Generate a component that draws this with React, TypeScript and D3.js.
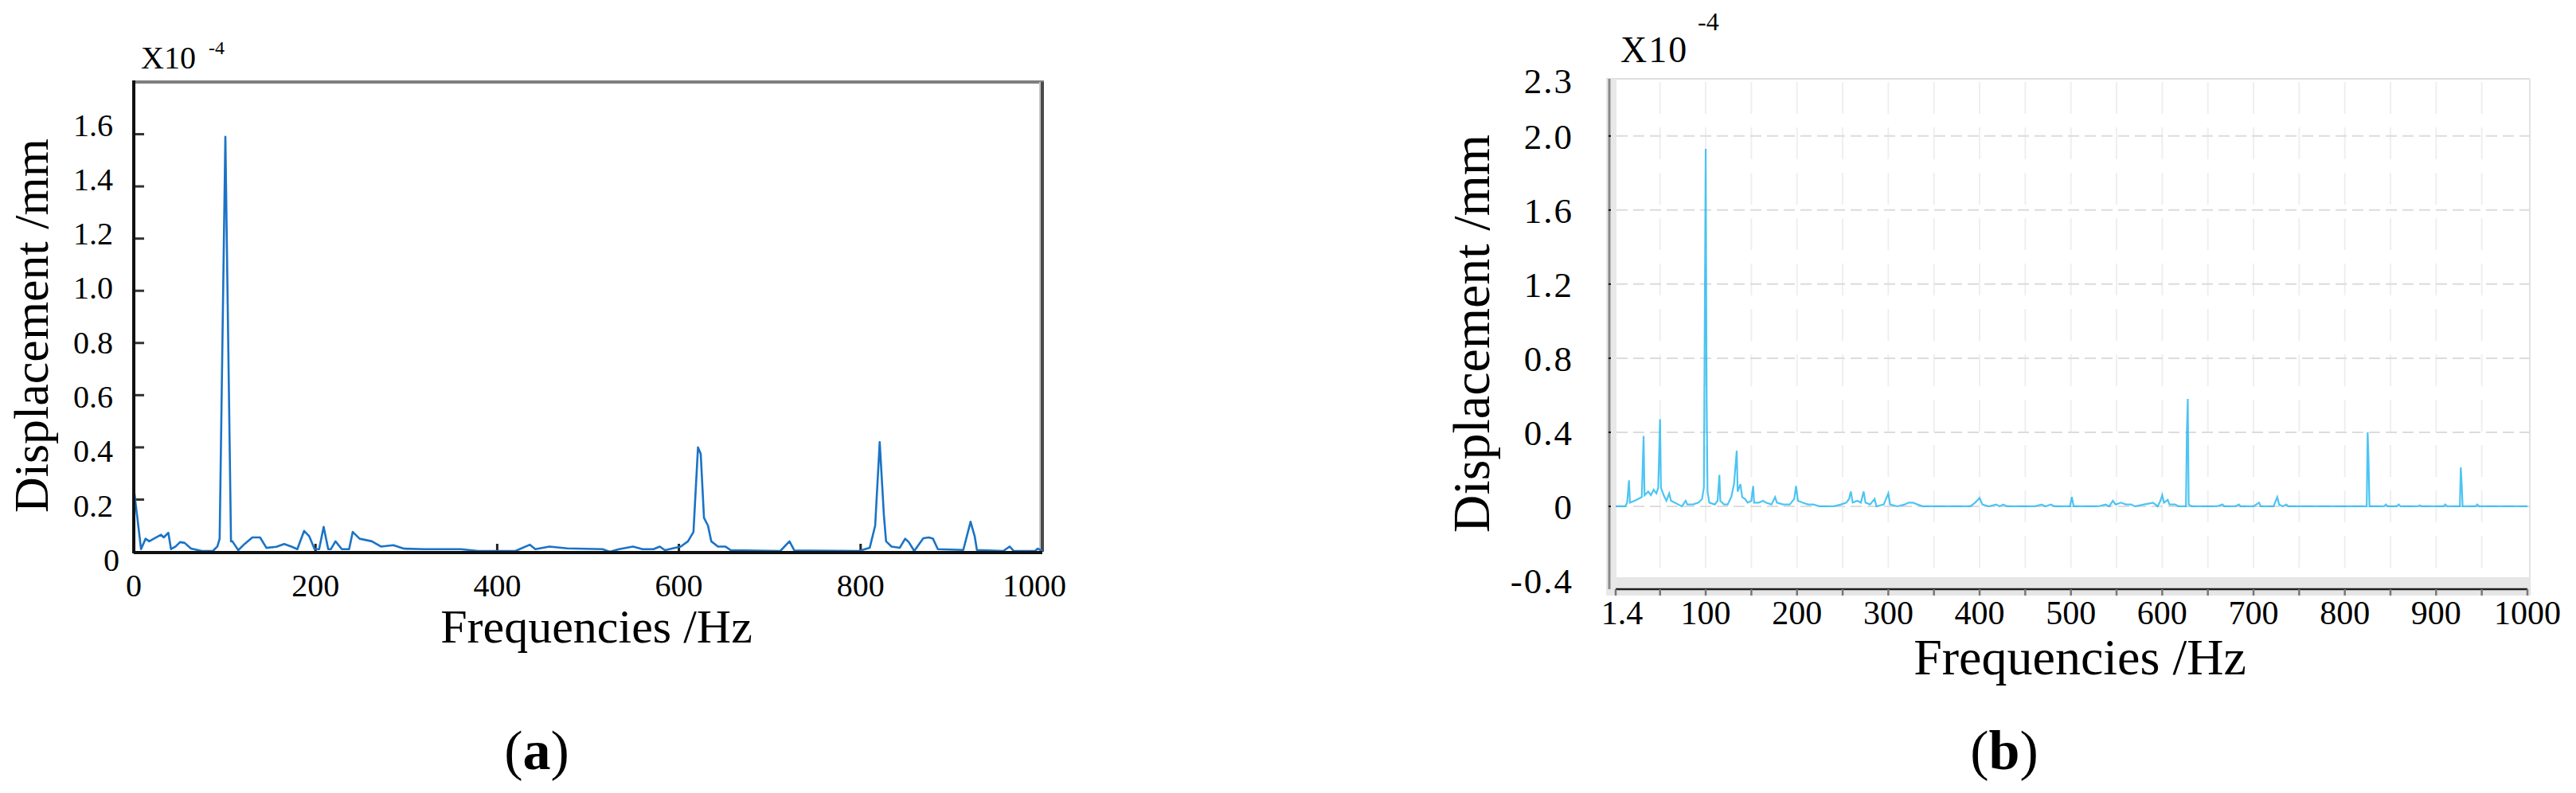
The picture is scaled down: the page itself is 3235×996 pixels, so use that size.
import React, { useRef, useEffect } from "react";
import * as d3 from "d3";

// panel (a) spectrum, displacement in 1e-4 mm
const freqA = [0, 8, 13, 17, 22, 30, 33, 38, 41, 46, 51, 56, 63, 75, 87, 92, 94.5, 100.8, 107, 108.5, 115, 122, 130.5, 139, 146, 157, 165.6, 174, 180, 187.5, 193, 199, 204, 209, 214, 217, 222, 229, 237, 241, 248.6, 262, 272, 285.7, 297, 320, 360, 379, 420, 436, 442, 457.5, 477, 516, 524, 534, 549.5, 560, 572, 579, 584.5, 602, 610, 616, 621, 624, 627.6, 632, 635.6, 643, 651, 657, 711.6, 721.7, 727, 798, 810, 816, 821, 825.6, 828, 834, 843, 849, 853, 859, 869, 875, 879.6, 885, 913, 921, 925.5, 928, 957, 964, 968.6, 992, 995, 1000];
const dispA = [0.245, 0.01, 0.05, 0.04, 0.05, 0.065, 0.055, 0.073, 0.01, 0.02, 0.037, 0.034, 0.012, 0.003, 0.003, 0.02, 0.05, 1.59, 0.04, 0.04, 0.006, 0.03, 0.055, 0.055, 0.015, 0.019, 0.03, 0.019, 0.01, 0.08, 0.06, 0.01, 0.01, 0.095, 0.01, 0.01, 0.04, 0.01, 0.01, 0.076, 0.05, 0.04, 0.02, 0.025, 0.012, 0.01, 0.01, 0.003, 0.003, 0.027, 0.01, 0.02, 0.013, 0.01, 0, 0.01, 0.02, 0.01, 0.01, 0.02, 0.006, 0.02, 0.04, 0.076, 0.4, 0.375, 0.13, 0.1, 0.04, 0.02, 0.02, 0.006, 0.003, 0.04, 0.005, 0.003, 0.015, 0.1, 0.42, 0.14, 0.04, 0.02, 0.015, 0.05, 0.037, 0.003, 0.052, 0.055, 0.05, 0.01, 0.007, 0.115, 0.06, 0.007, 0.003, 0.02, 0.003, 0.003, 0.012, 0.003];
const yTicksA = [0, 0.2, 0.4, 0.6, 0.8, 1.0, 1.2, 1.4, 1.6];
const xTicksA = [0, 200, 400, 600, 800, 1000];

// panel (b) spectrum
const freqB = [1.4, 12, 14, 16, 17, 22, 26, 30, 32, 33, 37, 40, 43, 46, 48, 50, 51, 54, 57, 60, 62, 66, 70, 74, 78, 80, 86, 92, 96, 98, 100, 101, 102, 104, 110, 113, 115, 116, 120, 124, 128, 131, 134, 135, 138, 140, 143, 146, 150, 152, 153, 158, 163, 166, 172, 176, 178, 185, 192, 197, 199, 201, 206, 212, 218, 225, 240, 248, 254, 257, 259, 261, 266, 270, 273, 275, 280, 285, 287, 295, 300, 302, 310, 318, 322, 327, 332, 338, 390, 395, 400, 403, 410, 418, 422, 426, 430, 460, 468, 472, 478, 482, 499, 501, 503, 530, 538, 542, 546, 549, 555, 560, 566, 570, 580, 590, 595, 598, 600, 602, 606, 608, 614, 618, 626, 627, 628, 629, 632, 660, 666, 668, 680, 684, 686, 700, 706, 708, 722, 726, 728, 732, 736, 738, 824, 825, 826, 827, 843, 845, 847, 857, 859, 861, 880, 882, 884, 908, 910, 912, 926, 927, 928, 929, 943, 945, 947, 1000];
const dispB = [0, 0, 0.02, 0.14, 0.02, 0.03, 0.04, 0.05, 0.38, 0.06, 0.08, 0.06, 0.09, 0.07, 0.1, 0.47, 0.1, 0.06, 0.03, 0.07, 0.03, 0.02, 0.01, 0, 0.03, 0.01, 0.01, 0.02, 0.04, 0.1, 1.93, 0.6, 0.08, 0.02, 0.01, 0.03, 0.17, 0.03, 0.01, 0.01, 0.05, 0.12, 0.3, 0.08, 0.12, 0.05, 0.04, 0.02, 0.03, 0.11, 0.02, 0.02, 0.03, 0.02, 0.01, 0.05, 0.02, 0.01, 0.01, 0.04, 0.11, 0.03, 0.02, 0.01, 0.01, 0, 0, 0.01, 0.02, 0.04, 0.08, 0.02, 0.03, 0.02, 0.08, 0.02, 0.01, 0.04, 0, 0.01, 0.07, 0.01, 0, 0.01, 0.02, 0.02, 0.01, 0, 0, 0.02, 0.045, 0.01, 0, 0.01, 0, 0.01, 0, 0, 0.01, 0, 0.01, 0, 0, 0.05, 0, 0, 0.01, 0, 0.03, 0.01, 0.02, 0.01, 0.01, 0, 0.01, 0.02, 0, 0.03, 0.06, 0.02, 0.035, 0.01, 0.01, 0, 0, 0.4, 0.58, 0.01, 0, 0, 0.01, 0, 0, 0.01, 0, 0, 0.02, 0, 0, 0.05, 0.01, 0, 0.01, 0, 0, 0.4, 0.25, 0, 0, 0.01, 0, 0, 0.01, 0, 0, 0.005, 0, 0, 0.01, 0, 0, 0.21, 0.12, 0, 0, 0.01, 0, 0];
const yTicksB = [-0.4, 0, 0.4, 0.8, 1.2, 1.6, 2.0, 2.3];
const yGridB = [0, 0.4, 0.8, 1.2, 1.6, 2.0];
const xTicksB = [1.4, 100, 200, 300, 400, 500, 600, 700, 800, 900, 1000];
const xMinorB = [50, 150, 250, 350, 450, 550, 650, 750, 850, 950];

const FONT = "'Liberation Serif', 'Times New Roman', serif";

function App() {
  const ref = useRef(null);

  useEffect(() => {
    const svg = d3.select(ref.current);
    svg.selectAll("*").remove();

    // ---------- panel (a) ----------
    const xa = d3.scaleLinear().domain([0, 1000]).range([168, 1309]);
    const ya = d3.scaleLinear().domain([0, 1.8]).range([693, 103]);
    const labA = d3.scaleLinear().domain([0, 1.6]).range([ya(0) + 10, ya(1.6) - 12]);
    const ga = svg.append("g");

    ga.append("line").attr("x1", xa(0) - 2).attr("x2", xa(1000) + 2)
      .attr("y1", ya(1.8)).attr("y2", ya(1.8)).attr("stroke", "#7f7f7f").attr("stroke-width", 4);
    ga.append("line").attr("x1", xa(1000)).attr("x2", xa(1000))
      .attr("y1", ya(1.8)).attr("y2", ya(0)).attr("stroke", "#4a4a4a").attr("stroke-width", 4);
    ga.append("line").attr("x1", xa(1000) - 3).attr("x2", xa(1000) - 3)
      .attr("y1", ya(1.8)).attr("y2", ya(0)).attr("stroke", "#c4c4c4").attr("stroke-width", 2);

    ga.selectAll(".yt").data(yTicksA.slice(1)).join("line")
      .attr("x1", xa(0)).attr("x2", xa(0) + 13)
      .attr("y1", (d) => ya(d)).attr("y2", (d) => ya(d))
      .attr("stroke", "#333").attr("stroke-width", 3);
    ga.selectAll(".xt").data(xTicksA.slice(1, -1)).join("line")
      .attr("x1", (d) => xa(d)).attr("x2", (d) => xa(d))
      .attr("y1", ya(0)).attr("y2", ya(0) - 10)
      .attr("stroke", "#222").attr("stroke-width", 3);

    const lineA = d3.line().x((d) => xa(d[0])).y((d) => ya(d[1]));
    ga.append("path").datum(freqA.map((f, i) => [f, dispA[i]]))
      .attr("d", lineA).attr("fill", "none")
      .attr("stroke", "#1a73c6").attr("stroke-width", 2.6)
      .attr("stroke-linejoin", "round");

    ga.append("line").attr("x1", xa(0)).attr("x2", xa(0))
      .attr("y1", ya(1.8) - 2).attr("y2", ya(0) + 2).attr("stroke", "#111").attr("stroke-width", 4);
    ga.append("line").attr("x1", xa(0)).attr("x2", xa(1000))
      .attr("y1", ya(0) + 1).attr("y2", ya(0) + 1).attr("stroke", "#111").attr("stroke-width", 4);

    ga.selectAll(".yl").data(yTicksA).join("text")
      .attr("x", (d) => (d === 0 ? 150 : 142)).attr("y", (d) => labA(d)).attr("dy", "0.35em")
      .attr("text-anchor", "end").attr("font-family", FONT).attr("font-size", 40)
      .text((d) => (d === 0 ? "0" : d.toFixed(1)));
    ga.selectAll(".xl").data(xTicksA).join("text")
      .attr("x", (d) => xa(d) + (d === 1000 ? -10 : 0)).attr("y", 749)
      .attr("text-anchor", "middle").attr("font-family", FONT).attr("font-size", 40)
      .text((d) => String(d));

    ga.append("text").attr("x", 177).attr("y", 86)
      .attr("font-family", FONT).attr("font-size", 40).text("X10");
    ga.append("text").attr("x", 262).attr("y", 68).attr("font-family", FONT)
      .attr("font-size", 24).text("-4");

    ga.append("text").attr("transform", "translate(60,409) rotate(-90)")
      .attr("text-anchor", "middle").attr("font-family", FONT).attr("font-size", 62)
      .text("Displacement /mm");
    ga.append("text").attr("x", 749).attr("y", 807)
      .attr("text-anchor", "middle").attr("font-family", FONT).attr("font-size", 60)
      .text("Frequencies /Hz");
    const ta = ga.append("text").attr("x", 674).attr("y", 966)
      .attr("text-anchor", "middle").attr("font-family", FONT).attr("font-size", 70);
    ta.append("tspan").text("(");
    ta.append("tspan").attr("font-weight", "bold").text("a");
    ta.append("tspan").text(")");

    // ---------- panel (b) ----------
    const xb = d3.scaleLinear().domain([1.4, 1000]).range([2029, 3174]);
    const yb = d3.scaleLinear().domain([-0.4, 2.3]).range([729, 101]);
    const gb = svg.append("g");
    const left = 2017, right = 3177, top = 99, bottom = 748;

    gb.append("line").attr("x1", left).attr("x2", right).attr("y1", top).attr("y2", top)
      .attr("stroke", "#dedede").attr("stroke-width", 2);
    gb.append("line").attr("x1", right).attr("x2", right).attr("y1", top).attr("y2", bottom)
      .attr("stroke", "#e2e2e2").attr("stroke-width", 2);

    gb.selectAll(".vg").data(xMinorB.concat(xTicksB.slice(1, -1))).join("line")
      .attr("x1", (d) => xb(d)).attr("x2", (d) => xb(d))
      .attr("y1", top + 4).attr("y2", 725)
      .attr("stroke", "#efefef").attr("stroke-width", 2).attr("stroke-dasharray", "40 17");
    gb.selectAll(".hg").data(yGridB).join("line")
      .attr("x1", 2030).attr("x2", right)
      .attr("y1", (d) => yb(d)).attr("y2", (d) => yb(d))
      .attr("stroke", "#dcdcdc").attr("stroke-width", 2).attr("stroke-dasharray", "14 7");

    // bottom band and left band
    gb.append("rect").attr("x", left).attr("y", 725).attr("width", right - left).attr("height", bottom - 725)
      .attr("fill", "#e6e6e6");
    gb.append("rect").attr("x", left).attr("y", top).attr("width", 13).attr("height", bottom - top)
      .attr("fill", "#e8e8e8");
    gb.append("line").attr("x1", 2021).attr("x2", 2021).attr("y1", top).attr("y2", 740)
      .attr("stroke", "#8a8a8a").attr("stroke-width", 3);
    gb.append("line").attr("x1", xb(1.4)).attr("x2", xb(1000)).attr("y1", 740).attr("y2", 740)
      .attr("stroke", "#1e1e1e").attr("stroke-width", 2.5);
    gb.selectAll(".bt").data(xMinorB.concat(xTicksB)).join("line")
      .attr("x1", (d) => xb(d)).attr("x2", (d) => xb(d))
      .attr("y1", 740).attr("y2", bottom)
      .attr("stroke", "#777").attr("stroke-width", 2.5);
    gb.selectAll(".lt").data(yGridB).join("line")
      .attr("x1", 2020).attr("x2", 2023)
      .attr("y1", (d) => yb(d)).attr("y2", (d) => yb(d))
      .attr("stroke", "#111").attr("stroke-width", 2);

    const lineB = d3.line().x((d) => xb(d[0])).y((d) => yb(d[1]));
    gb.append("path").datum(freqB.map((f, i) => [f, dispB[i]]))
      .attr("d", lineB).attr("fill", "none")
      .attr("stroke", "#1fb6f0").attr("stroke-width", 2.2).attr("stroke-opacity", 0.8)
      .attr("stroke-linejoin", "miter");

    gb.selectAll(".yl").data(yTicksB).join("text")
      .attr("x", 1976).attr("y", (d) => yb(d)).attr("dy", "0.35em")
      .attr("text-anchor", "end").attr("font-family", FONT).attr("font-size", 45)
      .attr("letter-spacing", 2)
      .text((d) => (d === 0 ? "0" : d.toFixed(1)));
    gb.selectAll(".xl").data(xTicksB).join("text")
      .attr("x", (d) => xb(d) + (d === 1.4 ? 8 : 0)).attr("y", 784)
      .attr("text-anchor", "middle").attr("font-family", FONT).attr("font-size", 42)
      .text((d) => String(d));

    gb.append("text").attr("x", 2035).attr("y", 78).attr("font-family", FONT)
      .attr("font-size", 46).attr("letter-spacing", 2).text("X10");
    gb.append("text").attr("x", 2132).attr("y", 38).attr("font-family", FONT)
      .attr("font-size", 32).text("-4");

    gb.append("text").attr("transform", "translate(1870,419) rotate(-90)")
      .attr("text-anchor", "middle").attr("font-family", FONT).attr("font-size", 66)
      .text("Displacement /mm");
    gb.append("text").attr("x", 2612).attr("y", 847)
      .attr("text-anchor", "middle").attr("font-family", FONT).attr("font-size", 64)
      .text("Frequencies /Hz");
    const tb = gb.append("text").attr("x", 2517).attr("y", 966)
      .attr("text-anchor", "middle").attr("font-family", FONT).attr("font-size", 70);
    tb.append("tspan").text("(");
    tb.append("tspan").attr("font-weight", "bold").text("b");
    tb.append("tspan").text(")");
  }, []);

  return (
    <svg
      ref={ref}
      width={3235}
      height={996}
      style={{ position: "absolute", left: 0, top: 0, background: "#fff" }}
    />
  );
}

export default App;
